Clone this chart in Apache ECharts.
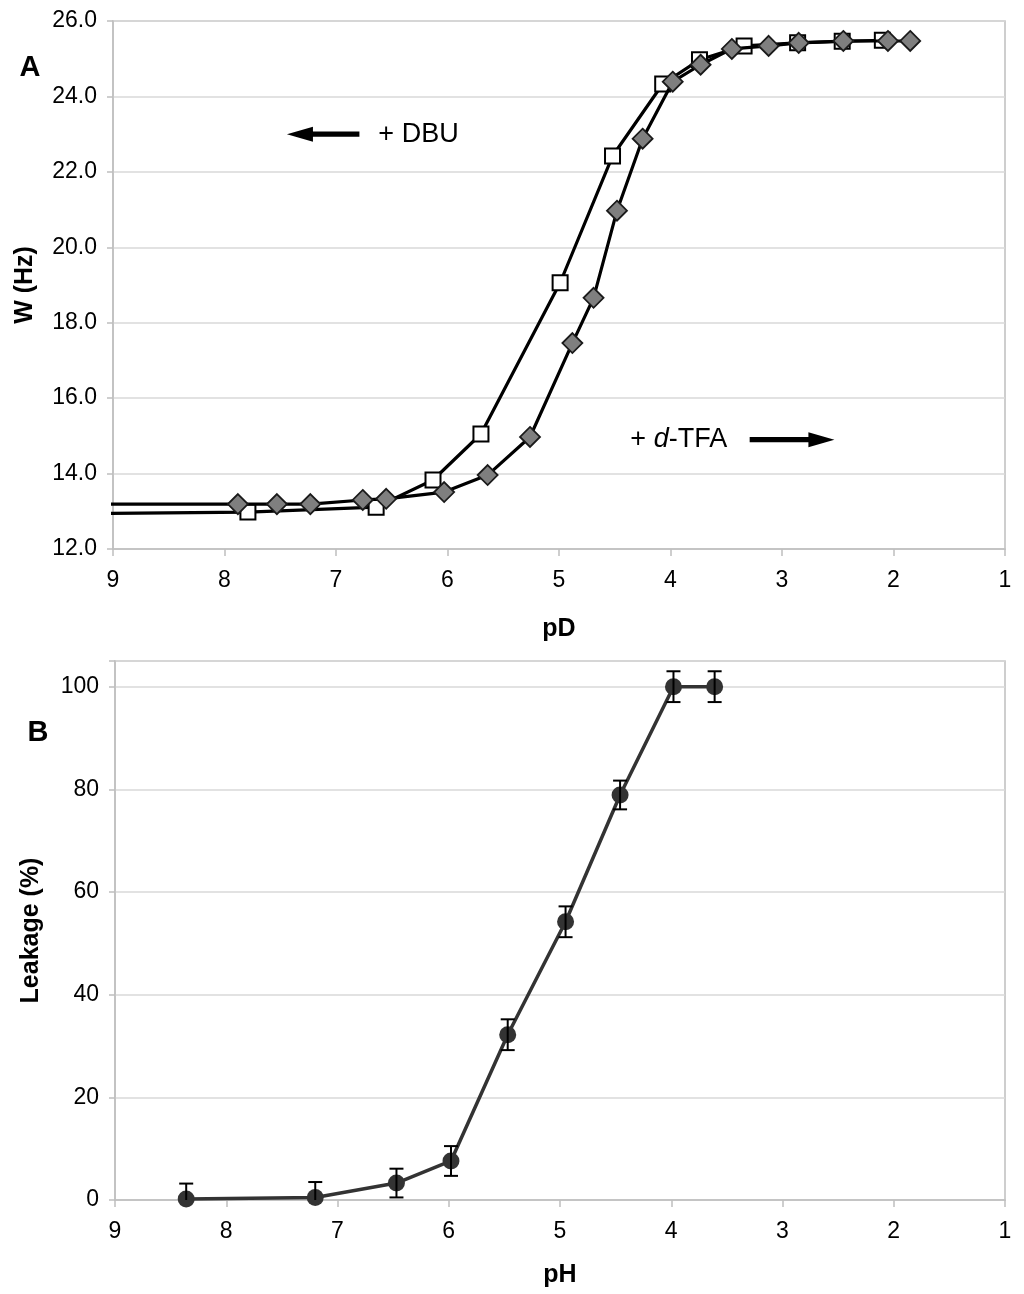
<!DOCTYPE html>
<html>
<head>
<meta charset="utf-8">
<script src="https://cdn.jsdelivr.net/npm/echarts@6/dist/echarts.min.js"></script>
<style>
html,body{margin:0;padding:0;background:#fff;}
#chart{width:1024px;height:1294px;}
</style>
</head>
<body>
<div id="chart"></div>
<script>
// Panel A: NMR line width vs pD
const pdSquares = [9.5, 7.79, 6.64, 6.13, 5.70, 4.99, 4.52, 4.07, 3.74, 3.34, 2.86, 2.46, 2.10];
const wSquares  = [12.93, 12.98, 13.11, 13.83, 15.05, 19.06, 22.42, 24.33, 24.97, 25.34, 25.42, 25.46, 25.49];
const pdDiamonds = [9.5, 7.88, 7.53, 7.23, 6.76, 6.55, 6.03, 5.64, 5.26, 4.88, 4.69, 4.48, 4.25, 3.98, 3.73, 3.45, 3.12, 2.85, 2.45, 2.05, 1.85];
const wDiamonds  = [13.19, 13.19, 13.19, 13.19, 13.30, 13.33, 13.51, 13.96, 14.97, 17.46, 18.66, 20.97, 22.88, 24.39, 24.84, 25.26, 25.34, 25.42, 25.47, 25.47, 25.47];

// Panel B: leakage vs pH
const phValues   = [8.36, 7.20, 6.47, 5.98, 5.47, 4.95, 4.46, 3.98, 3.61];
const leakValues = [0.2, 0.5, 3.3, 7.6, 32.2, 54.2, 78.9, 100, 100];
const leakErrors = [3, 3, 2.8, 2.9, 3, 3, 2.8, 3, 3];

const xTicks = [9, 8, 7, 6, 5, 4, 3, 2, 1];

const FONT = '"Liberation Sans", Arial, sans-serif';
const axisGray = '#bfbfbf';
const gridGray = '#d9d9d9';

const chart = echarts.init(document.getElementById('chart'));

function xAxisCfg(gridIndex, name, gap) {
  return {
    gridIndex: gridIndex, type: 'value', inverse: true, min: 1, max: 9, interval: 1,
    name: name, nameLocation: 'middle', nameGap: gap,
    nameTextStyle: {fontFamily: FONT, fontSize: 25, fontWeight: 'bold', color: '#000'},
    axisLine: {show: true, onZero: false, lineStyle: {color: axisGray, width: 1.5}},
    axisTick: {show: true, inside: false, length: 7, lineStyle: {color: axisGray, width: 1.5}},
    axisLabel: {fontFamily: FONT, fontSize: 23, color: '#000', margin: 20,
      formatter: v => xTicks.indexOf(v) >= 0 ? String(v) : ''},
    splitLine: {show: false}
  };
}

const sq = pdSquares.map((x, i) => [x, wSquares[i]]);
const di = pdDiamonds.map((x, i) => [x, wDiamonds[i]]);
const lk = phValues.map((x, i) => [x, leakValues[i], leakErrors[i]]);

const option = {
  animation: false,
  backgroundColor: '#fff',
  grid: [
    {left: 113, right: 19, top: 21, height: 528, show: true, borderColor: axisGray, borderWidth: 1.5, backgroundColor: 'transparent'},
    {left: 115, right: 19, top: 661, height: 539, show: true, borderColor: axisGray, borderWidth: 1.5, backgroundColor: 'transparent'}
  ],
  xAxis: [xAxisCfg(0, 'pD', 68), xAxisCfg(1, 'pH', 63)],
  yAxis: [
    {
      gridIndex: 0, type: 'value', min: 12, max: 26, interval: 2,
      name: 'W (Hz)', nameLocation: 'middle', nameGap: 75,
      nameTextStyle: {fontFamily: FONT, fontSize: 25, fontWeight: 'bold', color: '#000'},
      axisLine: {show: true, lineStyle: {color: axisGray, width: 1.5}},
      axisTick: {show: true, length: 6, lineStyle: {color: axisGray, width: 1.5}},
      axisLabel: {fontFamily: FONT, fontSize: 23, color: '#000', margin: 16, formatter: v => v.toFixed(1)},
      splitLine: {show: true, lineStyle: {color: gridGray, width: 1.5}}
    },
    {
      gridIndex: 1, type: 'value', min: 0, max: 105, interval: 20,
      name: 'Leakage (%)', nameLocation: 'middle', nameGap: 71,
      nameTextStyle: {fontFamily: FONT, fontSize: 25, fontWeight: 'bold', color: '#000'},
      axisLine: {show: true, lineStyle: {color: axisGray, width: 1.5}},
      axisTick: {show: true, length: 6, lineStyle: {color: axisGray, width: 1.5}},
      axisLabel: {fontFamily: FONT, fontSize: 23, color: '#000', margin: 16,
        formatter: v => (v % 20 === 0 ? String(v) : '')},
      splitLine: {show: true, lineStyle: {color: gridGray, width: 1.5}}
    }
  ],
  series: [
    {
      type: 'line', xAxisIndex: 0, yAxisIndex: 0, data: sq, clip: true,
      symbol: 'rect', symbolSize: 15,
      lineStyle: {color: '#000', width: 3.2},
      itemStyle: {color: '#fff', borderColor: '#000', borderWidth: 2},
      z: 3
    },
    {
      type: 'line', xAxisIndex: 0, yAxisIndex: 0, data: di, clip: true,
      symbol: 'diamond', symbolSize: 20,
      lineStyle: {color: '#000', width: 3.2},
      itemStyle: {color: '#7f7f7f', borderColor: '#1a1a1a', borderWidth: 1.8},
      z: 4
    },
    {
      type: 'line', xAxisIndex: 1, yAxisIndex: 1, data: lk.map(d => [d[0], d[1]]), clip: false,
      symbol: 'circle', symbolSize: 17,
      lineStyle: {color: '#333', width: 3.5},
      itemStyle: {color: '#333'},
      z: 3
    },
    {
      type: 'custom', xAxisIndex: 1, yAxisIndex: 1, data: lk, z: 5,
      renderItem: function (params, api) {
        const x = api.value(0), y = api.value(1), e = api.value(2);
        const top = api.coord([x, y + e]);
        const bot = api.coord([x, y - e]);
        const bottomEdge = params.coordSys.y + params.coordSys.height;
        const children = [];
        const cap = 7;
        let botY = bot[1];
        let showBotCap = true;
        if (botY > bottomEdge) { botY = bottomEdge; showBotCap = false; }
        const st = {stroke: '#000', lineWidth: 2};
        children.push({type: 'line', shape: {x1: top[0], y1: top[1], x2: top[0], y2: botY}, style: st});
        children.push({type: 'line', shape: {x1: top[0] - cap, y1: top[1], x2: top[0] + cap, y2: top[1]}, style: st});
        if (showBotCap) children.push({type: 'line', shape: {x1: bot[0] - cap, y1: bot[1], x2: bot[0] + cap, y2: bot[1]}, style: st});
        return {type: 'group', children: children};
      }
    }
  ]
};

chart.setOption(option);

// annotations anchored in data coordinates of panel A
function px(pt) { return chart.convertToPixel({gridIndex: 0}, pt); }
const dbuTip = px([7.44, 23.0]), dbuEnd = px([6.79, 23.0]), dbuText = px([6.62, 23.0]);
const tfaText = px([4.36, 14.9]), tfaStart = px([3.29, 14.9]), tfaTip = px([2.53, 14.9]);
const headLen = 26, headHalf = 7.5, shaftHalf = 2.6;

function arrowPoints(tipX, endX, y, dir) {
  // dir = -1 for left-pointing, +1 for right-pointing
  const hb = tipX - dir * headLen;
  return [[tipX, y], [hb, y - headHalf], [hb, y - shaftHalf], [endX, y - shaftHalf],
          [endX, y + shaftHalf], [hb, y + shaftHalf], [hb, y + headHalf]];
}

chart.setOption({
  graphic: [
    {type: 'polygon', shape: {points: arrowPoints(dbuTip[0], dbuEnd[0], dbuTip[1], -1)}, style: {fill: '#000'}, z: 10},
    {type: 'text', x: dbuText[0], y: dbuText[1], style: {text: '+ DBU', fontFamily: FONT, fontSize: 27, fill: '#000', verticalAlign: 'middle', align: 'left'}, z: 10},
    {type: 'text', x: tfaText[0], y: tfaText[1], style: {
      text: '{n|+ }{i|d}{n|-TFA}', verticalAlign: 'middle', align: 'left',
      rich: {n: {fontFamily: FONT, fontSize: 27, fill: '#000'}, i: {fontFamily: FONT, fontSize: 27, fontStyle: 'italic', fill: '#000'}}
    }, z: 10},
    {type: 'polygon', shape: {points: arrowPoints(tfaTip[0], tfaStart[0], tfaTip[1], 1)}, style: {fill: '#000'}, z: 10},
    {type: 'text', x: 30, y: 68, style: {text: 'A', fontFamily: FONT, fontSize: 29, fontWeight: 'bold', fill: '#000', align: 'center', verticalAlign: 'middle'}, z: 10},
    {type: 'text', x: 38, y: 733, style: {text: 'B', fontFamily: FONT, fontSize: 29, fontWeight: 'bold', fill: '#000', align: 'center', verticalAlign: 'middle'}, z: 10}
  ]
});
</script>
</body>
</html>
